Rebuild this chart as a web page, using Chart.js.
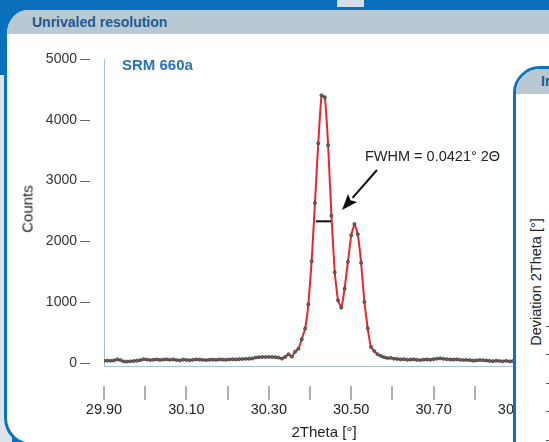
<!DOCTYPE html>
<html>
<head>
<meta charset="utf-8">
<script src="https://cdn.jsdelivr.net/npm/chart.js@4/dist/chart.umd.min.js"></script>
<style>
  html, body { margin: 0; padding: 0; }
  body { width: 549px; height: 442px; overflow: hidden; position: relative; background: #0a70bb; font-family: "Liberation Sans", Arial, sans-serif; }
  .abs { position: absolute; }
  #grayL { left: 0; top: 75px; width: 12px; height: 367px; background: #dce3e9; }
  #topRect { left: 337px; top: 0; width: 27px; height: 7px; background: #d6dee5; }
  #panel { left: 4px; top: 10px; width: 600px; height: 436px; background: #fff; border: 3px solid #0b72bd; border-top: 0; border-radius: 24px 0 0 28px; overflow: hidden; box-sizing: border-box; }
  #head { height: 24px; background: #b9c9d4; color: #1f5a90; font-weight: bold; font-size: 14px; line-height: 24px; padding-left: 25px; }
  #chart { left: 0; top: 0; }
  #srm { left: 122px; top: 56px; color: #2a72b8; font-weight: bold; font-size: 15px; }
  #fwhm { left: 365px; top: 148px; color: #222; font-size: 14.5px; }
  #ytitle { left: 27px; top: 209px; color: #222; font-size: 15px; font-weight: normal; transform: translate(-50%, -50%) rotate(-90deg); white-space: nowrap; }
  #xtitle { left: 324px; top: 423px; color: #222; font-size: 15px; transform: translateX(-50%); white-space: nowrap; }
  #panel2 { left: 513px; top: 66px; width: 80px; height: 400px; background: #fff; border: 3px solid #0b72bd; border-radius: 27px 0 0 0; overflow: hidden; }
  #head2 { height: 25px; background: #b9c9d4; color: #1f5a90; font-weight: bold; font-size: 14px; line-height: 25px; padding-left: 25px; }
  #dev { left: 20px; top: 213px; color: #222; font-size: 14.5px; transform: translate(-50%, -50%) rotate(-90deg); white-space: nowrap; }
  .rt { width: 5px; height: 1px; background: #555; left: 30px; }
</style>
</head>
<body>
<div id="grayL" class="abs"></div>
<div id="topRect" class="abs"></div>
<div id="panel" class="abs"><div id="head">Unrivaled resolution</div></div>
<canvas id="chart" class="abs" width="549" height="442" style="width:549px;height:442px"></canvas>
<div id="srm" class="abs">SRM 660a</div>
<div id="fwhm" class="abs">FWHM = 0.0421° 2Θ</div>
<div id="ytitle" class="abs">Counts</div>
<div id="xtitle" class="abs">2Theta [°]</div>
<div id="panel2" class="abs">
  <div id="head2">In</div>
  <div id="dev" class="abs">Deviation 2Theta [°]</div>
  <div class="abs rt" style="top:257px"></div>
  <div class="abs rt" style="top:285px"></div>
  <div class="abs rt" style="top:314px"></div>
  <div class="abs rt" style="top:342px"></div>
  <div class="abs rt" style="top:371px"></div>
</div>
<script>
// Scan grid: 2Theta start and step
const thetaStart = 29.900;
const thetaStep = 0.008;

// Counts
const counts = [
  35, 38, 36, 42, 58, 48, 25, 22, 28, 32,
  38, 45, 62, 55, 48, 52, 58, 50, 55, 60,
  52, 58, 48, 42, 55, 50, 45, 52, 58, 55,
  50, 48, 52, 55, 50, 58, 55, 52, 58, 60,
  58, 62, 65, 68, 70, 75, 90, 95, 98, 96,
  100, 98, 95, 88, 72, 100, 143, 104, 186, 235,
  390, 564, 965, 1673, 2632, 3613, 4403, 4370, 3581, 2423,
  1492, 1031, 910, 1222, 1661, 2100, 2286, 2117, 1650, 1003,
  571, 263, 197, 143, 115, 94, 80, 84, 70, 66,
  58, 62, 52, 55, 60, 50, 48, 55, 58, 52,
  62, 70, 75, 68, 62, 58, 55, 60, 52, 48,
  50, 45, 38, 42, 48, 45, 40, 35, 30, 38,
  32, 28, 35, 25, 30
];

const xTickValues = [29.9, 30.0, 30.1, 30.2, 30.3, 30.4, 30.5, 30.6, 30.7, 30.8, 30.9];
const xTickLabels = ['29.90', '', '30.10', '', '30.30', '', '30.50', '', '30.70', '', '30.90'];
const yTickValues = [0, 1000, 2000, 3000, 4000, 5000];
const yTickLabels = ['0', '1000', '2000', '3000', '4000', '5000'];

// FWHM marker and arrow (data coordinates)
const fwhmBar = [30.4146, 30.4510];
const fwhmLevel = 2330;
const arrowFrom = [30.5626, 3174];
const arrowTo = [30.4777, 2516];

const points = counts.map((c, i) => ({ x: thetaStart + i * thetaStep, y: c }));

const decor = {
  id: 'decor',
  afterDraw(chart) {
    const { ctx, scales: { x, y } } = chart;
    ctx.save();
    ctx.strokeStyle = '#666';
    ctx.lineWidth = 1;
    ctx.beginPath();
    y.ticks.forEach(t => {
      const py = Math.round(y.getPixelForValue(t.value)) + 0.5;
      ctx.moveTo(80, py); ctx.lineTo(90, py);
    });
    ctx.stroke();
    ctx.strokeStyle = '#888';
    ctx.lineWidth = 1.3;
    ctx.beginPath();
    x.ticks.forEach(t => {
      const px = Math.round(x.getPixelForValue(t.value));
      ctx.moveTo(px, 386); ctx.lineTo(px, 400);
    });
    ctx.stroke();

    // FWHM bar
    ctx.strokeStyle = '#111';
    ctx.lineWidth = 2;
    const by = y.getPixelForValue(fwhmLevel);
    ctx.beginPath();
    ctx.moveTo(x.getPixelForValue(fwhmBar[0]), by);
    ctx.lineTo(x.getPixelForValue(fwhmBar[1]), by);
    ctx.stroke();

    // arrow
    const x1 = x.getPixelForValue(arrowFrom[0]), y1 = y.getPixelForValue(arrowFrom[1]);
    const x2 = x.getPixelForValue(arrowTo[0]), y2 = y.getPixelForValue(arrowTo[1]);
    const ang = Math.atan2(y2 - y1, x2 - x1);
    const hl = 16, hw = 6;
    const bx = x2 - hl * Math.cos(ang), byy = y2 - hl * Math.sin(ang);
    ctx.lineWidth = 2;
    ctx.beginPath();
    ctx.moveTo(x1, y1); ctx.lineTo(bx, byy);
    ctx.stroke();
    ctx.fillStyle = '#111';
    ctx.beginPath();
    ctx.moveTo(x2, y2);
    ctx.lineTo(bx + hw * Math.sin(ang), byy - hw * Math.cos(ang));
    ctx.lineTo(bx + 3 * Math.cos(ang), byy + 3 * Math.sin(ang));
    ctx.lineTo(bx - hw * Math.sin(ang), byy + hw * Math.cos(ang));
    ctx.closePath();
    ctx.fill();
    ctx.restore();
  }
};

new Chart(document.getElementById('chart'), {
  type: 'line',
  data: {
    datasets: [{
      data: points,
      borderColor: '#e8272b',
      borderWidth: 2,
      tension: 0.1,
      pointRadius: 1.6,
      pointBackgroundColor: '#666',
      pointBorderColor: '#333',
      pointBorderWidth: 0.6
    }]
  },
  options: {
    responsive: false,
    animation: false,
    devicePixelRatio: 1,
    layout: { padding: { top: 59, right: 33, left: 0, bottom: 0 } },
    plugins: { legend: { display: false }, tooltip: { enabled: false } },
    scales: {
      x: {
        type: 'linear', min: 29.9, max: 30.9,
        grid: { display: false, drawTicks: false },
        border: { display: true, color: '#a6c1e2', width: 1 },
        afterBuildTicks: s => { s.ticks = xTickValues.map(v => ({ value: v })); },
        afterFit: s => { s.height = 76; s.paddingLeft = 0; s.paddingRight = 0; },
        ticks: {
          autoSkip: false, maxRotation: 0, padding: 35, color: '#222',
          font: { family: 'Liberation Sans', size: 14.5 },
          callback: (v, i) => xTickLabels[i]
        }
      },
      y: {
        min: -50, max: 5000,
        grid: { display: false, drawTicks: false },
        border: { display: true, color: '#a6c1e2', width: 1 },
        afterBuildTicks: s => { s.ticks = yTickValues.map(v => ({ value: v })); },
        afterFit: s => { s.width = 104; },
        ticks: {
          padding: 27, color: '#333',
          font: { family: 'Liberation Sans', size: 14 },
          callback: (v, i) => yTickLabels[i]
        }
      }
    }
  },
  plugins: [decor]
});
</script>
</body>
</html>
